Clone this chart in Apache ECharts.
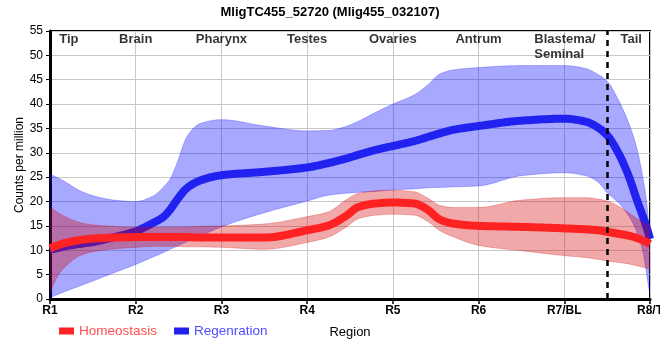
<!DOCTYPE html>
<html><head><meta charset="utf-8">
<script src="https://cdn.jsdelivr.net/npm/echarts@6/dist/echarts.min.js"></script>
<style>html,body{margin:0;padding:0;background:#fff}#c{width:660px;height:360px}</style>
</head><body><div id="c"></div>
<script>
const categories = ['R1','R2','R3','R4','R5','R6','R7/BL','R8/T'];
const regionNames = ['Tip','Brain','Pharynx','Testes','Ovaries','Antrum','Blastema/\nSeminal','Tail'];
const regionPos = [1.22, 2, 3, 4, 5, 6, 6.65, 7.78];
const tailBoundary = 7.5;

const xs = [1, 1.1, 1.2, 1.35, 1.5, 1.75, 2, 2.2, 2.32, 2.4, 2.48, 2.6, 2.75, 3, 3.5, 4, 4.25, 4.45, 4.6, 4.8, 5, 5.25, 5.4, 5.55, 5.7, 6, 6.5, 7, 7.25, 7.4, 7.5, 7.63, 7.75, 7.85, 7.92, 7.97, 8];

const regMean = [10.1, 10.5, 10.9, 11.3, 11.7, 12.7, 13.9, 15.6, 16.8, 18.3, 20.3, 22.8, 24.3, 25.4, 26.1, 27.0, 27.9, 28.8, 29.6, 30.6, 31.4, 32.4, 33.2, 34.0, 34.7, 35.5, 36.6, 37.0, 36.4, 35.1, 33.6, 30.0, 25.3, 20.2, 16.8, 14.2, 12.3];
const regHi = [25.6, 24.8, 23.8, 22.2, 21.2, 20.3, 20.0, 21.1, 22.9, 24.6, 27.8, 33.4, 36.0, 36.8, 35.5, 34.5, 34.6, 35.4, 36.5, 38.3, 40.0, 41.9, 43.8, 46.2, 47.0, 47.5, 47.9, 47.9, 47.3, 46.0, 44.7, 40.9, 36.2, 30.7, 24.6, 18.5, 12.0];
const regLo = [0.3, 1.0, 1.7, 2.7, 3.7, 5.4, 7.1, 8.6, 9.5, 10.2, 10.8, 11.8, 12.9, 14.8, 17.7, 20.1, 21.3, 21.7, 21.9, 22.1, 22.4, 22.6, 22.8, 22.9, 23.0, 23.2, 25.3, 25.9, 25.3, 23.9, 21.8, 19.8, 17.1, 13.6, 9.5, 4.0, 0.7];

const homMean = [10.4, 11.1, 11.6, 12.1, 12.4, 12.6, 12.7, 12.7, 12.7, 12.7, 12.7, 12.7, 12.6, 12.6, 12.6, 14.1, 15.1, 17.0, 18.9, 19.6, 19.8, 19.6, 18.4, 16.3, 15.5, 15.0, 14.8, 14.5, 14.3, 14.1, 13.8, 13.4, 13.0, 12.5, 12.0, 11.6, 11.3];
const homHi = [18.9, 17.6, 16.7, 15.7, 15.2, 14.9, 14.7, 14.7, 14.7, 14.7, 14.7, 14.8, 14.9, 15.0, 15.4, 16.9, 17.9, 20.3, 21.7, 22.2, 22.3, 22.0, 20.8, 19.2, 18.8, 18.8, 20.3, 20.8, 20.8, 20.5, 20.1, 19.1, 17.7, 16.5, 15.8, 15.2, 14.8];
const homLo = [1.4, 5.0, 7.0, 8.9, 9.7, 10.3, 10.6, 10.8, 10.8, 10.8, 10.8, 10.7, 10.7, 10.6, 10.2, 11.6, 12.7, 14.7, 16.5, 17.2, 17.4, 17.2, 16.0, 14.0, 12.8, 11.0, 9.9, 8.9, 8.5, 8.1, 7.8, 7.5, 7.2, 6.8, 6.5, 6.3, 6.1];

const FONT = '"Liberation Sans", Arial, sans-serif';

// monotone cubic smoothing of screen-space points (render geometry only)
function smoothPts(p) {
  const n = p.length, h = [], d = [], m = new Array(n);
  for (let i = 0; i < n - 1; i++) { h[i] = p[i+1][0] - p[i][0]; d[i] = (p[i+1][1] - p[i][1]) / h[i]; }
  m[0] = d[0]; m[n-1] = d[n-2];
  for (let k = 1; k < n - 1; k++) {
    if (d[k-1] * d[k] <= 0) m[k] = 0;
    else { const w1 = 2*h[k] + h[k-1], w2 = h[k] + 2*h[k-1]; m[k] = (w1 + w2) / (w1/d[k-1] + w2/d[k]); }
  }
  const out = [];
  for (let i = 0; i < n - 1; i++) {
    const steps = Math.max(2, Math.ceil(h[i] / 1.5));
    for (let s = 0; s < steps; s++) {
      const t = s / steps, t2 = t*t, t3 = t2*t;
      const h00 = 2*t3 - 3*t2 + 1, h10 = t3 - 2*t2 + t, h01 = -2*t3 + 3*t2, h11 = t3 - t2;
      out.push([p[i][0] + t*h[i], h00*p[i][1] + h10*h[i]*m[i] + h01*p[i+1][1] + h11*h[i]*m[i+1]]);
    }
  }
  out.push(p[n-1].slice());
  return out;
}

function band(name, lo, hi, fill, edge, z) {
  return {
    type: 'custom', name: name, silent: true, z: z, clip: true,
    data: [[1, 0]],
    renderItem: function (params, api) {
      const up = smoothPts(xs.map((x, i) => api.coord([x, hi[i]])));
      const dn = smoothPts(xs.map((x, i) => api.coord([x, lo[i]])));
      return { type: 'group', children: [
        { type: 'polygon', shape: { points: up.concat(dn.slice().reverse()) }, style: { fill: fill } },
        { type: 'polyline', shape: { points: up }, style: { stroke: edge, fill: null, lineWidth: 1 } },
        { type: 'polyline', shape: { points: dn }, style: { stroke: edge, fill: null, lineWidth: 1 } }
      ]};
    }
  };
}

function meanLine(name, vals, color, z) {
  return {
    type: 'custom', name: name, silent: true, z: z, clip: false,
    itemStyle: { color: color },
    data: [[1, vals[0]]],
    renderItem: function (params, api) {
      const pts = smoothPts(xs.map((x, i) => api.coord([x, vals[i]])));
      return { type: 'polyline', shape: { points: pts },
        style: { stroke: color, fill: null, lineWidth: 8, lineJoin: 'round', lineCap: 'butt' } };
    }
  };
}

const chart = echarts.init(document.getElementById('c'), null, { renderer: 'canvas' });
chart.setOption({
  animation: false,
  backgroundColor: '#fff',
  textStyle: { fontFamily: FONT },
  title: { text: 'MligTC455_52720 (Mlig455_032107)', left: 'center', top: 1,
    textStyle: { fontFamily: FONT, fontSize: 13, fontWeight: 'bold', color: '#000' } },
  legend: {
    left: 54, top: 319, itemWidth: 15, itemHeight: 7, itemGap: 17, selectedMode: false, icon: 'rect',
    data: [
      { name: 'Homeostasis', textStyle: { color: '#ff4d4d' }, itemStyle: { color: '#ff2222' } },
      { name: 'Regenration', textStyle: { color: '#4d4dff' }, itemStyle: { color: '#2222f0' } }
    ],
    textStyle: { fontFamily: FONT, fontSize: 13.5 }
  },
  grid: { left: 50, right: 10, top: 31, bottom: 61, show: true, borderColor: '#000', borderWidth: 2,
    containLabel: false, outerBoundsMode: 'none' },
  xAxis: {
    type: 'value', min: 1, max: 8, interval: 1,
    name: 'Region', nameLocation: 'middle', nameGap: 27, nameMoveOverlap: false,
    nameTextStyle: { fontFamily: FONT, fontSize: 13, color: '#000' },
    axisLine: { show: true, lineStyle: { color: '#000', width: 3 } },
    axisTick: { show: true, length: 5, lineStyle: { color: '#000', width: 1.5 } },
    axisLabel: { fontFamily: FONT, fontSize: 12, fontWeight: 'bold', color: '#000', margin: 6,
      showMinLabel: true, showMaxLabel: true, hideOverlap: false,
      formatter: v => categories[Math.round(v) - 1] || '' },
    splitLine: { show: true, lineStyle: { color: '#c8c8c8', width: 1 } }
  },
  yAxis: {
    type: 'value', min: 0, max: 55, interval: 5,
    name: 'Counts per million', nameLocation: 'middle', nameGap: 24, nameMoveOverlap: false,
    nameTextStyle: { fontFamily: FONT, fontSize: 12, color: '#000' },
    axisLine: { show: true, lineStyle: { color: '#000', width: 3 } },
    axisTick: { show: true, length: 4, lineStyle: { color: '#000', width: 1 } },
    axisLabel: { fontFamily: FONT, fontSize: 12, color: '#000', margin: 7 },
    splitLine: { show: true, lineStyle: { color: '#c8c8c8', width: 1 } }
  },
  series: [
    band('regBand', regLo, regHi, 'rgba(0,0,255,0.34)', 'rgba(0,0,255,0.25)', 1),
    meanLine('Regenration', regMean, '#2222f0', 2),
    band('homBand', homLo, homHi, 'rgba(210,0,0,0.34)', 'rgba(210,0,0,0.25)', 3),
    meanLine('Homeostasis', homMean, '#ff2222', 4),
    { type: 'scatter', name: 'regions', z: 5, silent: true, symbolSize: 1,
      itemStyle: { color: 'rgba(0,0,0,0)' },
      data: regionPos.map((x, i) => ({ value: [x, 55],
        label: i === 6 ? { align: 'left' } : {} })),
      label: { show: true, position: 'bottom', distance: 0, lineHeight: 15,
        fontFamily: FONT, fontSize: 13, fontWeight: 'bold', color: '#000',
        formatter: p => regionNames[p.dataIndex] },
      markLine: { silent: true, symbol: 'none', animation: false,
        label: { show: false },
        lineStyle: { color: '#000', type: [6, 5], width: 2.5 },
        data: [{ xAxis: tailBoundary }] } }
  ]
});
</script></body></html>
